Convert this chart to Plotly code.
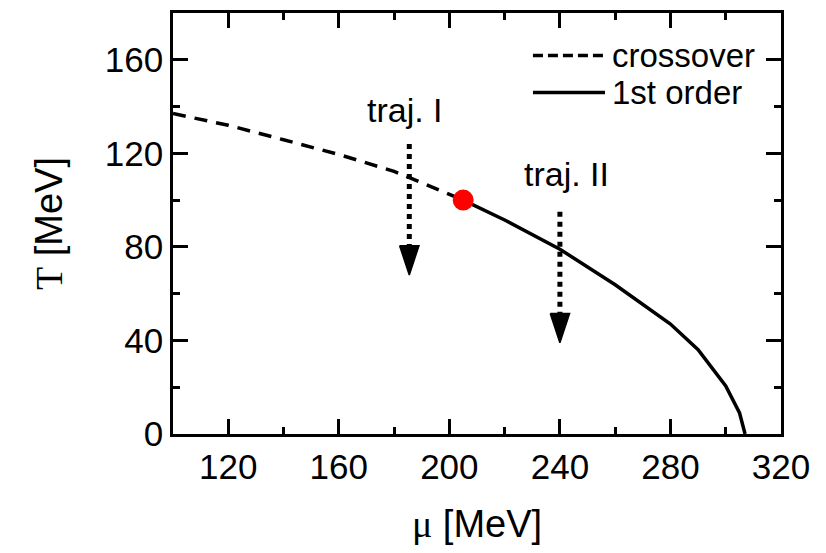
import plotly.graph_objects as go

# ---- data ----
crossover_mu = [100, 120, 140, 160, 180, 205]
crossover_T = [137, 132, 125.8, 119.5, 112.3, 100]

first_order_mu = [205, 220, 240, 260, 280, 290, 300, 305, 307]
first_order_T = [100, 91.5, 79, 63.8, 47, 36, 20.5, 9, 0]

cep_mu = [205]
cep_T = [100]

traj_labels = ["traj. I", "traj. II"]
traj_mu = [185.5, 240]
traj_T_start = [124, 95]
traj_T_end = [68, 39]
traj_label_mu = [184, 242.5]
traj_label_T = [138.5, 111]

x_tickvals = [120, 160, 200, 240, 280, 320]
y_tickvals = [0, 40, 80, 120, 160]

FONT = "Liberation Sans, Arial, sans-serif"

fig = go.Figure()

fig.add_trace(go.Scatter(x=crossover_mu, y=crossover_T, mode="lines",
                         line=dict(color="black", width=3.5, dash="13px,9px"),
                         showlegend=False, hoverinfo="skip"))
fig.add_trace(go.Scatter(x=first_order_mu, y=first_order_T, mode="lines",
                         line=dict(color="black", width=3.5),
                         showlegend=False, hoverinfo="skip"))

head_len = 12.5   # in T units
head_half = 3.5   # in mu units
for mu, t0, t1, lab, lx, ly in zip(traj_mu, traj_T_start, traj_T_end,
                                   traj_labels, traj_label_mu, traj_label_T):
    fig.add_trace(go.Scatter(x=[mu, mu], y=[t0, t1 + head_len], mode="lines",
                             line=dict(color="black", width=5, dash="5px,5px"),
                             showlegend=False, hoverinfo="skip"))
    fig.add_trace(go.Scatter(x=[mu - head_half, mu + head_half, mu, mu - head_half],
                             y=[t1 + head_len, t1 + head_len, t1, t1 + head_len],
                             mode="lines", fill="toself", fillcolor="black",
                             line=dict(color="black", width=1.5),
                             showlegend=False, hoverinfo="skip"))
    fig.add_annotation(x=lx, y=ly, text=lab, showarrow=False,
                       font=dict(family=FONT, size=34, color="black"))

fig.add_trace(go.Scatter(x=cep_mu, y=cep_T, mode="markers",
                         marker=dict(color="#ff0000", size=21, line=dict(width=0)),
                         showlegend=False, hoverinfo="skip"))

# manual legend (long line samples as in the reference)
legend_items = [("crossover", "10px,5px", 0.899), ("1st order", "solid", 0.811)]
for name, dash, yp in legend_items:
    fig.add_shape(type="line", xref="paper", yref="paper",
                  x0=0.592, x1=0.7105, y0=yp, y1=yp,
                  line=dict(color="black", width=3.5, dash=dash))
    fig.add_annotation(xref="paper", yref="paper", x=0.719, y=yp,
                       xanchor="left", yanchor="middle", text=name,
                       showarrow=False,
                       font=dict(family=FONT, size=33, color="black"))

axis_common = dict(
    showline=True, linecolor="black", linewidth=2.5, mirror="allticks",
    ticks="inside", ticklen=15, tickwidth=2.5, tickcolor="black",
    showgrid=False, zeroline=False,
    tickfont=dict(family=FONT, size=35, color="black"),
    minor=dict(ticks="inside", ticklen=7, tickwidth=2.5, tickcolor="black",
               dtick=20, showgrid=False),
)

fig.update_layout(
    width=826, height=553,
    margin=dict(l=165, r=53, t=2, b=127),
    paper_bgcolor="white", plot_bgcolor="white",
    font=dict(family=FONT, color="black"),
    xaxis=dict(range=[100, 320], tickvals=x_tickvals,
               title=dict(text='<span style="font-family:Liberation Serif">μ</span> [MeV]',
                          font=dict(family=FONT, size=38, color="black"), standoff=26),
               **axis_common),
    yaxis=dict(range=[0, 180], tickvals=y_tickvals,
               title=dict(text='<span style="font-family:Liberation Serif">T</span> [MeV]',
                          font=dict(family=FONT, size=38, color="black"), standoff=31),
               **axis_common),
)

fig.write_html("out.html")
